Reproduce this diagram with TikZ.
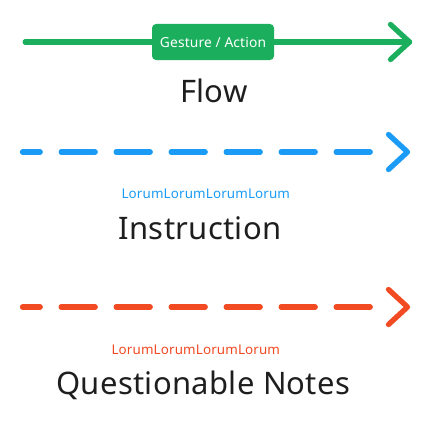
\documentclass[tikz,border=0pt]{standalone}
\usepackage{fontspec}
\setmainfont{Noto Sans}[LetterSpace=1]
\usepackage{tikz}
\usetikzlibrary{positioning}
\definecolor{FlowGreen}{HTML}{1BAF5D}
\definecolor{InstrBlue}{HTML}{1A9BF5}
\definecolor{NoteRed}{HTML}{F24A22}
\definecolor{InkDark}{HTML}{1E1E1E}

\begin{document}
\begin{tikzpicture}[x=1pt, y=-1pt,
  solid_line/.style={line width=5.3pt, line cap=round},
  dash_line/.style={line width=5.3pt, line cap=round,
    dash pattern=on 34pt off 21pt, dash phase=16.3pt},
  chevron/.style={line width=5.3pt, line cap=round, line join=round},
  tag_box/.style={rectangle, fill=FlowGreen, rounded corners=4pt,
    minimum width=122pt, minimum height=36pt, inner sep=0pt,
    text=white, font=\fontsize{13.8}{16}\selectfont},
  title_text/.style={anchor=base, text=InkDark, inner sep=0pt,
    font=\fontsize{31}{37}\selectfont},
  note_text/.style={anchor=base, inner sep=0pt,
    font=\fontsize{13.4}{16}\selectfont}
]
  \useasboundingbox (0,0) rectangle (430,428);

  % flow
  \coordinate (flowstart) at (25.2,42);
  \coordinate (flowtip) at (409.5,42);
  \draw[solid_line, FlowGreen] (flowstart) -- (flowtip);
  \draw[chevron, FlowGreen] ([shift={(-19,-17.5)}]flowtip) -- (flowtip) -- ([shift={(-19,17.5)}]flowtip);
  \node[tag_box] (gesture) at (213,42) {Gesture / Action};
  \node[title_text] (flow) at (214,102) {Flow};

  % instruction
  \coordinate (instrstart) at (22.5,152);
  \coordinate (instrend) at (389,152);
  \coordinate (instrtip) at (407.5,152);
  \draw[dash_line, InstrBlue] (instrstart) -- (instrend);
  \draw[chevron, InstrBlue] ([shift={(-19,-17.5)}]instrtip) -- (instrtip) -- ([shift={(-19,17.5)}]instrtip);
  \node[note_text, text=InstrBlue] (instrnote) at (205.8,198.3) {LorumLorumLorumLorum};
  \node[title_text] (instruction) at (200,239.4) {Instruction};

  % questionable notes
  \coordinate (notestart) at (22.5,307);
  \coordinate (noteend) at (389,307);
  \coordinate (notetip) at (407.5,307);
  \draw[dash_line, NoteRed] (notestart) -- (noteend);
  \draw[chevron, NoteRed] ([shift={(-19,-17.5)}]notetip) -- (notetip) -- ([shift={(-19,17.5)}]notetip);
  \node[note_text, text=NoteRed] (notenote) at (195.8,354) {LorumLorumLorumLorum};
  \node[title_text] (questionable) at (203.3,394.4) {Questionable Notes};

\end{tikzpicture}
\end{document}
